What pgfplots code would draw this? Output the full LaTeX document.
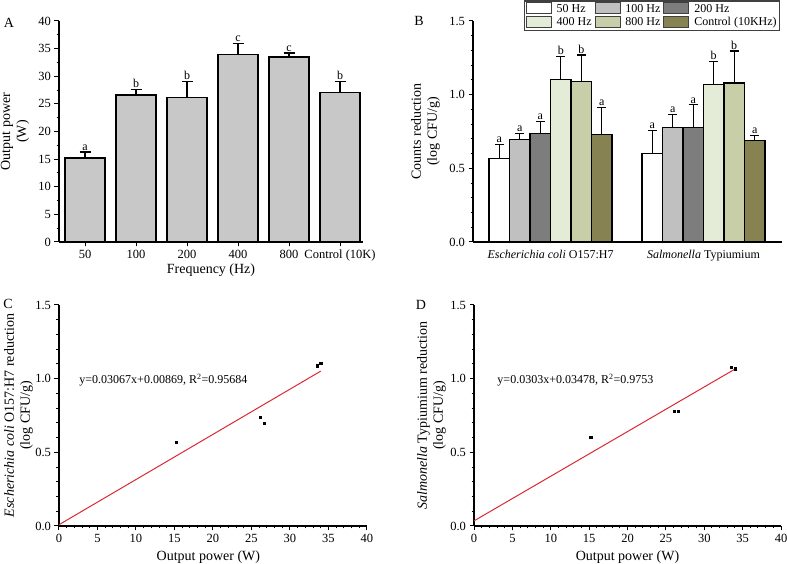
\documentclass[border=0pt]{standalone}
\usepackage{pgfplots}
\pgfplotsset{compat=1.18}
\usepackage{fontspec}
\setmainfont{Liberation Serif}
\definecolor{barA}{RGB}{200,200,200}
\definecolor{cA}{RGB}{255,255,255}
\definecolor{cB}{RGB}{192,192,192}
\definecolor{cC}{RGB}{125,125,125}
\definecolor{cD}{RGB}{228,235,214}
\definecolor{cE}{RGB}{200,206,168}
\definecolor{cF}{RGB}{134,130,82}
\definecolor{fitred}{RGB}{220,40,50}
\pgfplotsset{
  every axis/.append style={
    scale only axis,
    /pgf/number format/assume math mode=true,
    tick label style={font=\fontsize{12.5}{14}\selectfont},
    label style={font=\fontsize{14}{16}\selectfont},
    axis x line*=bottom, axis y line*=left,
    axis line style={line width=1.2pt, black},
    tick align=outside,
    every tick/.style={black, line width=1pt},
    major tick length=4.5pt, minor tick length=2.5pt,
  },
  mybar/.style={ybar, bar width=20.5pt, bar shift=0pt, draw=black, line width=1.2pt,
    legend image code/.code={\draw[##1, line width=0.9pt, draw=black!75] (0pt,-4.5pt) rectangle (25pt,6pt);},
    error bars/y dir=plus, error bars/y explicit,
    error bars/error bar style={line width=1.2pt, black},
    error bars/error mark options={rotate=90, mark size=4.5pt, line width=1.2pt, black}},
  letters/.style={draw=none, mark=none, only marks, nodes near coords, point meta=explicit symbolic,
    nodes near coords style={anchor=south, inner sep=1.5pt, font=\fontsize{12}{13}\selectfont}, forget plot},
}
\begin{document}
\begin{tikzpicture}
\useasboundingbox (0,0) rectangle (787pt,564pt);
% ---------------- Panel A
\begin{axis}[at={(59pt,322pt)}, anchor=south west, width=304pt, height=221pt,
  xmin=-0.51, xmax=5.45, ymin=0, ymax=40,
  ytick={0,5,...,40}, minor y tick num=1,
  xtick={0,...,5}, xticklabels={50,100,200,400,800,Control (10K)},
  xlabel={Frequency (Hz)}, ylabel={Output power\\(W)},
  xlabel style={at={(axis description cs:0.5,-0.127)}, anchor=center},
  ylabel style={align=center, at={(axis description cs:-0.145,0.5)}, anchor=center},
]
\addplot[ybar, bar width=40pt, bar shift=0pt, fill=barA, draw=black, line width=1.2pt,
  error bars/y dir=plus, error bars/y explicit,
  error bars/error bar style={line width=1.2pt, black},
  error bars/error mark options={rotate=90, mark size=5.5pt, line width=1.2pt, black}]
 coordinates {(0,15.2) +- (0,1.1) (1,26.6) +- (0,1.0) (2,26.1) +- (0,3.0)
              (3,34.0) +- (0,1.9) (4,33.5) +- (0,0.7) (5,27.0) +- (0,2.0)};
\addplot[letters] table[meta=lab] {
x y lab
0 16.3 a
1 27.6 b
2 29.1 b
3 35.9 c
4 34.2 c
5 29.0 b
};
\end{axis}
% ---------------- Panel B
\begin{axis}[at={(473pt,322pt)}, anchor=south west, width=309pt, height=221pt,
  xmin=0, xmax=309, ymin=0, ymax=1.5,
  ytick={0,0.5,1,1.5}, minor y tick num=4,
  yticklabel style={/pgf/number format/.cd, fixed, fixed zerofill, precision=1},
  xtick={77.55,230.45},
  xticklabels={\textit{Escherichia coli} O157:H7, \textit{Salmonella} Typiumium},
  xticklabel style={font=\fontsize{12}{13}\selectfont},
  x tick style={draw=none},
  ylabel={Counts reduction\\(log CFU/g)},
  ylabel style={align=center, at={(axis description cs:-0.154,0.5)}, anchor=center},
  legend columns=3, legend cell align=left,
  legend style={at={(rel axis cs:0.995,1.093)}, anchor=north east, draw=black!75, line width=1.5pt,
    font=\fontsize{12}{13}\selectfont, inner sep=1pt, row sep=0pt,
    /tikz/every even column/.append style={column sep=1pt},
    /tikz/every odd column/.append style={column sep=3pt}},
]
\addplot[mybar, fill=cA] coordinates {(26.3,0.567) +- (0,0.095) (179.2,0.600) +- (0,0.157)};
\addlegendentry{50 Hz}
\addplot[mybar, fill=cB] coordinates {(46.8,0.696) +- (0,0.040) (199.7,0.777) +- (0,0.091)};
\addlegendentry{100 Hz}
\addplot[mybar, fill=cC] coordinates {(67.3,0.736) +- (0,0.082) (220.2,0.777) +- (0,0.154)};
\addlegendentry{200 Hz}
\addplot[mybar, fill=cD] coordinates {(87.8,1.104) +- (0,0.154) (240.7,1.067) +- (0,0.157)};
\addlegendentry{400 Hz}
\addplot[mybar, fill=cE] coordinates {(108.3,1.088) +- (0,0.181) (261.2,1.079) +- (0,0.217)};
\addlegendentry{800 Hz}
\addplot[mybar, fill=cF] coordinates {(128.8,0.727) +- (0,0.188) (281.7,0.691) +- (0,0.034)};
\addlegendentry{Control (10KHz)}
\addplot[letters] table[meta=lab] {
x y lab
26.3 0.662 a
46.8 0.736 a
67.3 0.818 a
87.8 1.258 b
108.3 1.269 b
128.8 0.915 a
179.2 0.757 a
199.7 0.868 a
220.2 0.931 a
240.7 1.224 b
261.2 1.296 b
281.7 0.725 a
};
\end{axis}
% ---------------- Panel C
\begin{axis}[at={(59pt,38pt)}, anchor=south west, width=308pt, height=221pt,
  xmin=0, xmax=40, ymin=0, ymax=1.5,
  xtick={0,5,...,40}, minor x tick num=4,
  ytick={0,0.5,1,1.5}, minor y tick num=4,
  yticklabel style={/pgf/number format/.cd, fixed, fixed zerofill, precision=1},
  xlabel={Output power (W)},
  ylabel={\textit{Escherichia coli} O157:H7 reduction\\(log CFU/g)},
  xlabel style={at={(axis description cs:0.485,-0.140)}, anchor=center},
  ylabel style={align=center, at={(axis description cs:-0.131,0.5)}, anchor=center},
]
\addplot[fitred, line width=1pt] coordinates {(0,0.00869) (34,1.0514)};
\addplot[only marks, mark=square*, mark size=1.1pt, black] coordinates {
(15.2,0.567) (26.1,0.736) (26.6,0.696) (33.5,1.088) (34.0,1.104)};
\node[anchor=west, font=\fontsize{12}{13}\selectfont] at (axis cs:2.2,0.99)
  {y=0.03067x+0.00869, R\textsuperscript{2}=0.95684};
\end{axis}
% ---------------- Panel D
\begin{axis}[at={(474pt,38pt)}, anchor=south west, width=307pt, height=221pt,
  xmin=0, xmax=40, ymin=0, ymax=1.5,
  xtick={0,5,...,40}, minor x tick num=4,
  ytick={0,0.5,1,1.5}, minor y tick num=4,
  yticklabel style={/pgf/number format/.cd, fixed, fixed zerofill, precision=1},
  xlabel={Output power (W)},
  ylabel={\textit{Salmonella} Typiumium reduction\\(log CFU/g)},
  xlabel style={at={(axis description cs:0.5,-0.140)}, anchor=center},
  ylabel style={align=center, at={(axis description cs:-0.138,0.5)}, anchor=center},
]
\addplot[fitred, line width=1pt] coordinates {(0,0.03478) (34,1.06498)};
\addplot[only marks, mark=square*, mark size=1.1pt, black] coordinates {
(15.2,0.600) (26.1,0.777) (26.6,0.777) (33.5,1.079) (34.0,1.067)};
\node[anchor=west, font=\fontsize{12}{13}\selectfont] at (axis cs:2.6,0.99)
  {y=0.0303x+0.03478, R\textsuperscript{2}=0.9753};
\end{axis}
% panel letters
\node[font=\fontsize{14}{16}\selectfont] at (9pt,541pt) {A};
\node[font=\fontsize{14}{16}\selectfont] at (419pt,543pt) {B};
\node[font=\fontsize{14}{16}\selectfont] at (8pt,260pt) {C};
\node[font=\fontsize{14}{16}\selectfont] at (421pt,259pt) {D};
\end{tikzpicture}
\end{document}
